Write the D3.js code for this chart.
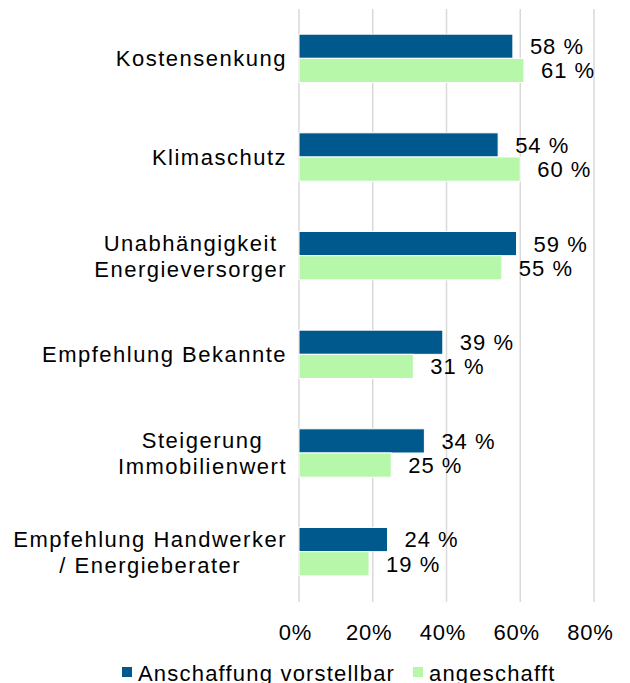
<!DOCTYPE html>
<html>
<head>
<meta charset="utf-8">
<script src="https://cdn.jsdelivr.net/npm/d3@7"></script>
<style>
  body { margin: 0; background: #fff; }
  text { font-family: "Liberation Sans", Arial, sans-serif; fill: #000; }
</style>
</head>
<body>
<div id="chart"></div>
<script>
// data
var categories = [
  ["Kostensenkung"],
  ["Klimaschutz"],
  ["Unabhängigkeit ", "Energieversorger"],
  ["Empfehlung Bekannte"],
  ["Steigerung", "Immobilienwert"],
  ["Empfehlung Handwerker", "/ Energieberater"]
];
var seriesNames = ["Anschaffung vorstellbar", "angeschafft"];
var vorstellbar = [58, 54, 59, 39, 34, 24];
var angeschafft = [61, 60, 55, 31, 25, 19];
var xTicks = [0, 20, 40, 60, 80];

var colors = ["#00598c", "#b6f7a9"];

var svgWidth = 630, svgHeight = 683;
// plot area (note: "top" is reserved on window, so use other names)
var plot = { left: 299, right: 594, top: 10, bottom: 600 };

var svg = d3.select("#chart").append("svg")
  .attr("width", svgWidth)
  .attr("height", svgHeight);

var x = d3.scaleLinear().domain([0, 80]).range([plot.left, plot.right]);

var y = d3.scaleBand()
  .domain(d3.range(categories.length))
  .range([plot.top, plot.bottom])
  .paddingInner(0.51)
  .paddingOuter(0.245);

var ySub = d3.scaleBand()
  .domain([0, 1])
  .range([0, y.bandwidth()]);

// gridlines
svg.append("g")
  .selectAll("line")
  .data(xTicks)
  .enter()
  .append("line")
  .attr("x1", d => x(d))
  .attr("x2", d => x(d))
  .attr("y1", 9)
  .attr("y2", 602)
  .attr("stroke", "#d9d9d9")
  .attr("stroke-width", 1.5);

// bars
var series = [vorstellbar, angeschafft];
series.forEach(function(vals, si) {
  svg.append("g")
    .selectAll("rect")
    .data(vals)
    .enter()
    .append("rect")
    .attr("x", x(0))
    .attr("y", (d, i) => y(i) + ySub(si))
    .attr("width", d => x(d) - x(0))
    .attr("height", ySub.bandwidth())
    .attr("fill", colors[si])
    .attr("stroke", "#fff")
    .attr("stroke-width", 1);

  svg.append("g")
    .selectAll("text")
    .data(vals)
    .enter()
    .append("text")
    .attr("x", d => x(d) + 17)
    .attr("y", (d, i) => y(i) + ySub(si) + ySub.bandwidth() / 2)
    .attr("dy", "0.36em")
    .attr("font-size", "22px")
    .attr("letter-spacing", "1px")
    .text(d => d + " %");
});

// category labels: block right-aligned, lines centred inside it
var lineH = 26;
categories.forEach(function(lines, i) {
  var g = svg.append("g");
  var cy = y(i) + y.bandwidth() / 2;
  var texts = g.selectAll("text")
    .data(lines)
    .enter()
    .append("text")
    .attr("font-size", "22px")
    .attr("letter-spacing", "1.5px")
    .attr("text-anchor", "middle")
    .attr("y", (d, j) => cy + (j - (lines.length - 1) / 2) * lineH)
    .attr("dy", "0.36em")
    .text(d => d);
  var maxW = 0;
  texts.each(function() { maxW = Math.max(maxW, this.getComputedTextLength()); });
  texts.attr("x", 287 - maxW / 2);
});

// x axis labels
var xAxis = d3.axisBottom(x)
  .tickValues(xTicks)
  .tickSize(0)
  .tickPadding(0)
  .tickFormat(d => d + "%");

var axisG = svg.append("g")
  .attr("transform", "translate(-4, 624)")
  .call(xAxis);
axisG.select(".domain").remove();
axisG.selectAll("text")
  .attr("font-size", "22px")
  .attr("letter-spacing", "0.8px")
  .attr("fill", "#000")
  .attr("font-family", "Liberation Sans, Arial, sans-serif");

// legend
var legendX = [122, 413];
var legend = svg.append("g");
seriesNames.forEach(function(name, i) {
  legend.append("rect")
    .attr("x", legendX[i])
    .attr("y", 667)
    .attr("width", 10)
    .attr("height", 10)
    .attr("fill", colors[i]);
  legend.append("text")
    .attr("x", legendX[i] + 16)
    .attr("y", 681)
    .attr("font-size", "22px")
    .attr("letter-spacing", "1.2px")
    .text(name);
});
</script>
</body>
</html>
